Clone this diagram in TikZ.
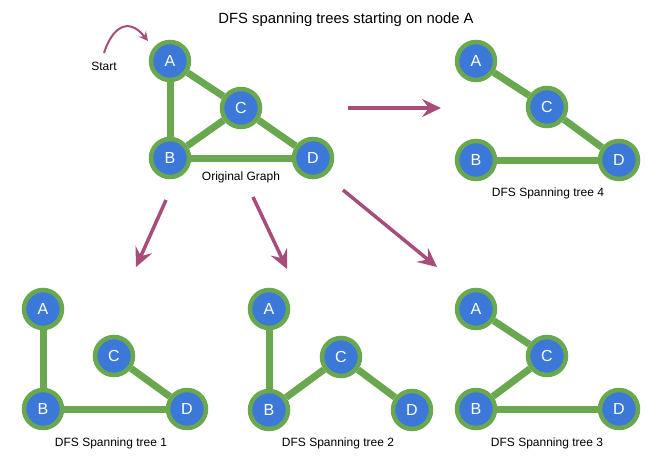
\documentclass[tikz,border=0pt]{standalone}
\usepackage{fontspec}
\setmainfont{Liberation Sans}
\usetikzlibrary{arrows.meta,backgrounds}
\definecolor{nblue}{HTML}{3C78D8}
\definecolor{ngreen}{HTML}{6AA84F}
\definecolor{amag}{HTML}{A64D79}
\tikzset{
  vtx/.style={circle, fill=nblue, draw=ngreen, line width=4.5pt, minimum size=38pt, inner sep=0pt, text=white, font=\fontsize{16}{16}\selectfont},
  edg/.style={draw=ngreen, line width=7pt},
  bigarrow/.style={draw=amag, line width=3.5pt, -{Stealth[length=19pt,width=18pt,inset=7pt]}},
  lbl/.style={font=\fontsize{12}{12}\selectfont, text=black},
}
\begin{document}
\begin{tikzpicture}[x=1pt,y=-1pt]
\useasboundingbox (0,0) rectangle (658,466);
\node[font=\fontsize{14.8}{15}\selectfont] (title) at (346,20) {DFS spanning trees starting on node A};
% original
\node[vtx] (oA) at (170,61) {A};
\node[vtx] (oC) at (241,108) {C};
\node[vtx] (oB) at (170,158) {B};
\node[vtx] (oD) at (313,158) {D};
\node[lbl] (olbl) at (241,177) {Original Graph};
\node[lbl] (start) at (104,66) {Start};
\coordinate (s0) at (104,53);
\coordinate (s1) at (148,41);
\draw[draw=amag, line width=2pt, -{Stealth[length=9pt,width=9pt,inset=3pt]}] (s0) .. controls (112,28) and (128,16) .. (s1);
\begin{scope}[on background layer]
\draw[edg] (oA) -- (oB); \draw[edg] (oA) -- (oC); \draw[edg] (oC) -- (oB); \draw[edg] (oC) -- (oD); \draw[edg] (oB) -- (oD);
\end{scope}
% tree 4
\node[vtx] (dA) at (476,61) {A};
\node[vtx] (dC) at (547,107) {C};
\node[vtx] (dB) at (476,160) {B};
\node[vtx] (dD) at (619,160) {D};
\node[lbl] (dlbl) at (548,193) {DFS Spanning tree 4};
% tree 1
\node[vtx] (aA) at (43,309) {A};
\node[vtx] (aC) at (114,356) {C};
\node[vtx] (aB) at (43,409) {B};
\node[vtx] (aD) at (187,409) {D};
\node[lbl] (albl) at (111,443) {DFS Spanning tree 1};
% tree 2
\node[vtx] (bA) at (269,309) {A};
\node[vtx] (bC) at (341,357) {C};
\node[vtx] (bB) at (269,410) {B};
\node[vtx] (bD) at (412,410) {D};
\node[lbl] (blbl) at (338,443) {DFS Spanning tree 2};
% tree 3
\node[vtx] (cA) at (476,309) {A};
\node[vtx] (cC) at (547,356) {C};
\node[vtx] (cB) at (476,409) {B};
\node[vtx] (cD) at (619,409) {D};
\node[lbl] (clbl) at (547,443) {DFS Spanning tree 3};
\begin{scope}[on background layer]
\draw[edg] (dA) -- (dC); \draw[edg] (dC) -- (dD); \draw[edg] (dB) -- (dD);
\draw[edg] (aA) -- (aB); \draw[edg] (aB) -- (aD); \draw[edg] (aC) -- (aD);
\draw[edg] (bA) -- (bB); \draw[edg] (bB) -- (bC); \draw[edg] (bC) -- (bD);
\draw[edg] (cA) -- (cC); \draw[edg] (cC) -- (cB); \draw[edg] (cB) -- (cD);
\end{scope}
% arrows
\coordinate (r0) at (348,108); \coordinate (r1) at (441,108);
\coordinate (p0) at (166,200); \coordinate (p1) at (136,267);
\coordinate (q0) at (253,197); \coordinate (q1) at (287,269);
\coordinate (t0) at (343,190); \coordinate (t1) at (437,267);
\draw[bigarrow] (r0) -- (r1);
\draw[bigarrow] (p0) -- (p1);
\draw[bigarrow] (q0) -- (q1);
\draw[bigarrow] (t0) -- (t1);
\end{tikzpicture}
\end{document}
